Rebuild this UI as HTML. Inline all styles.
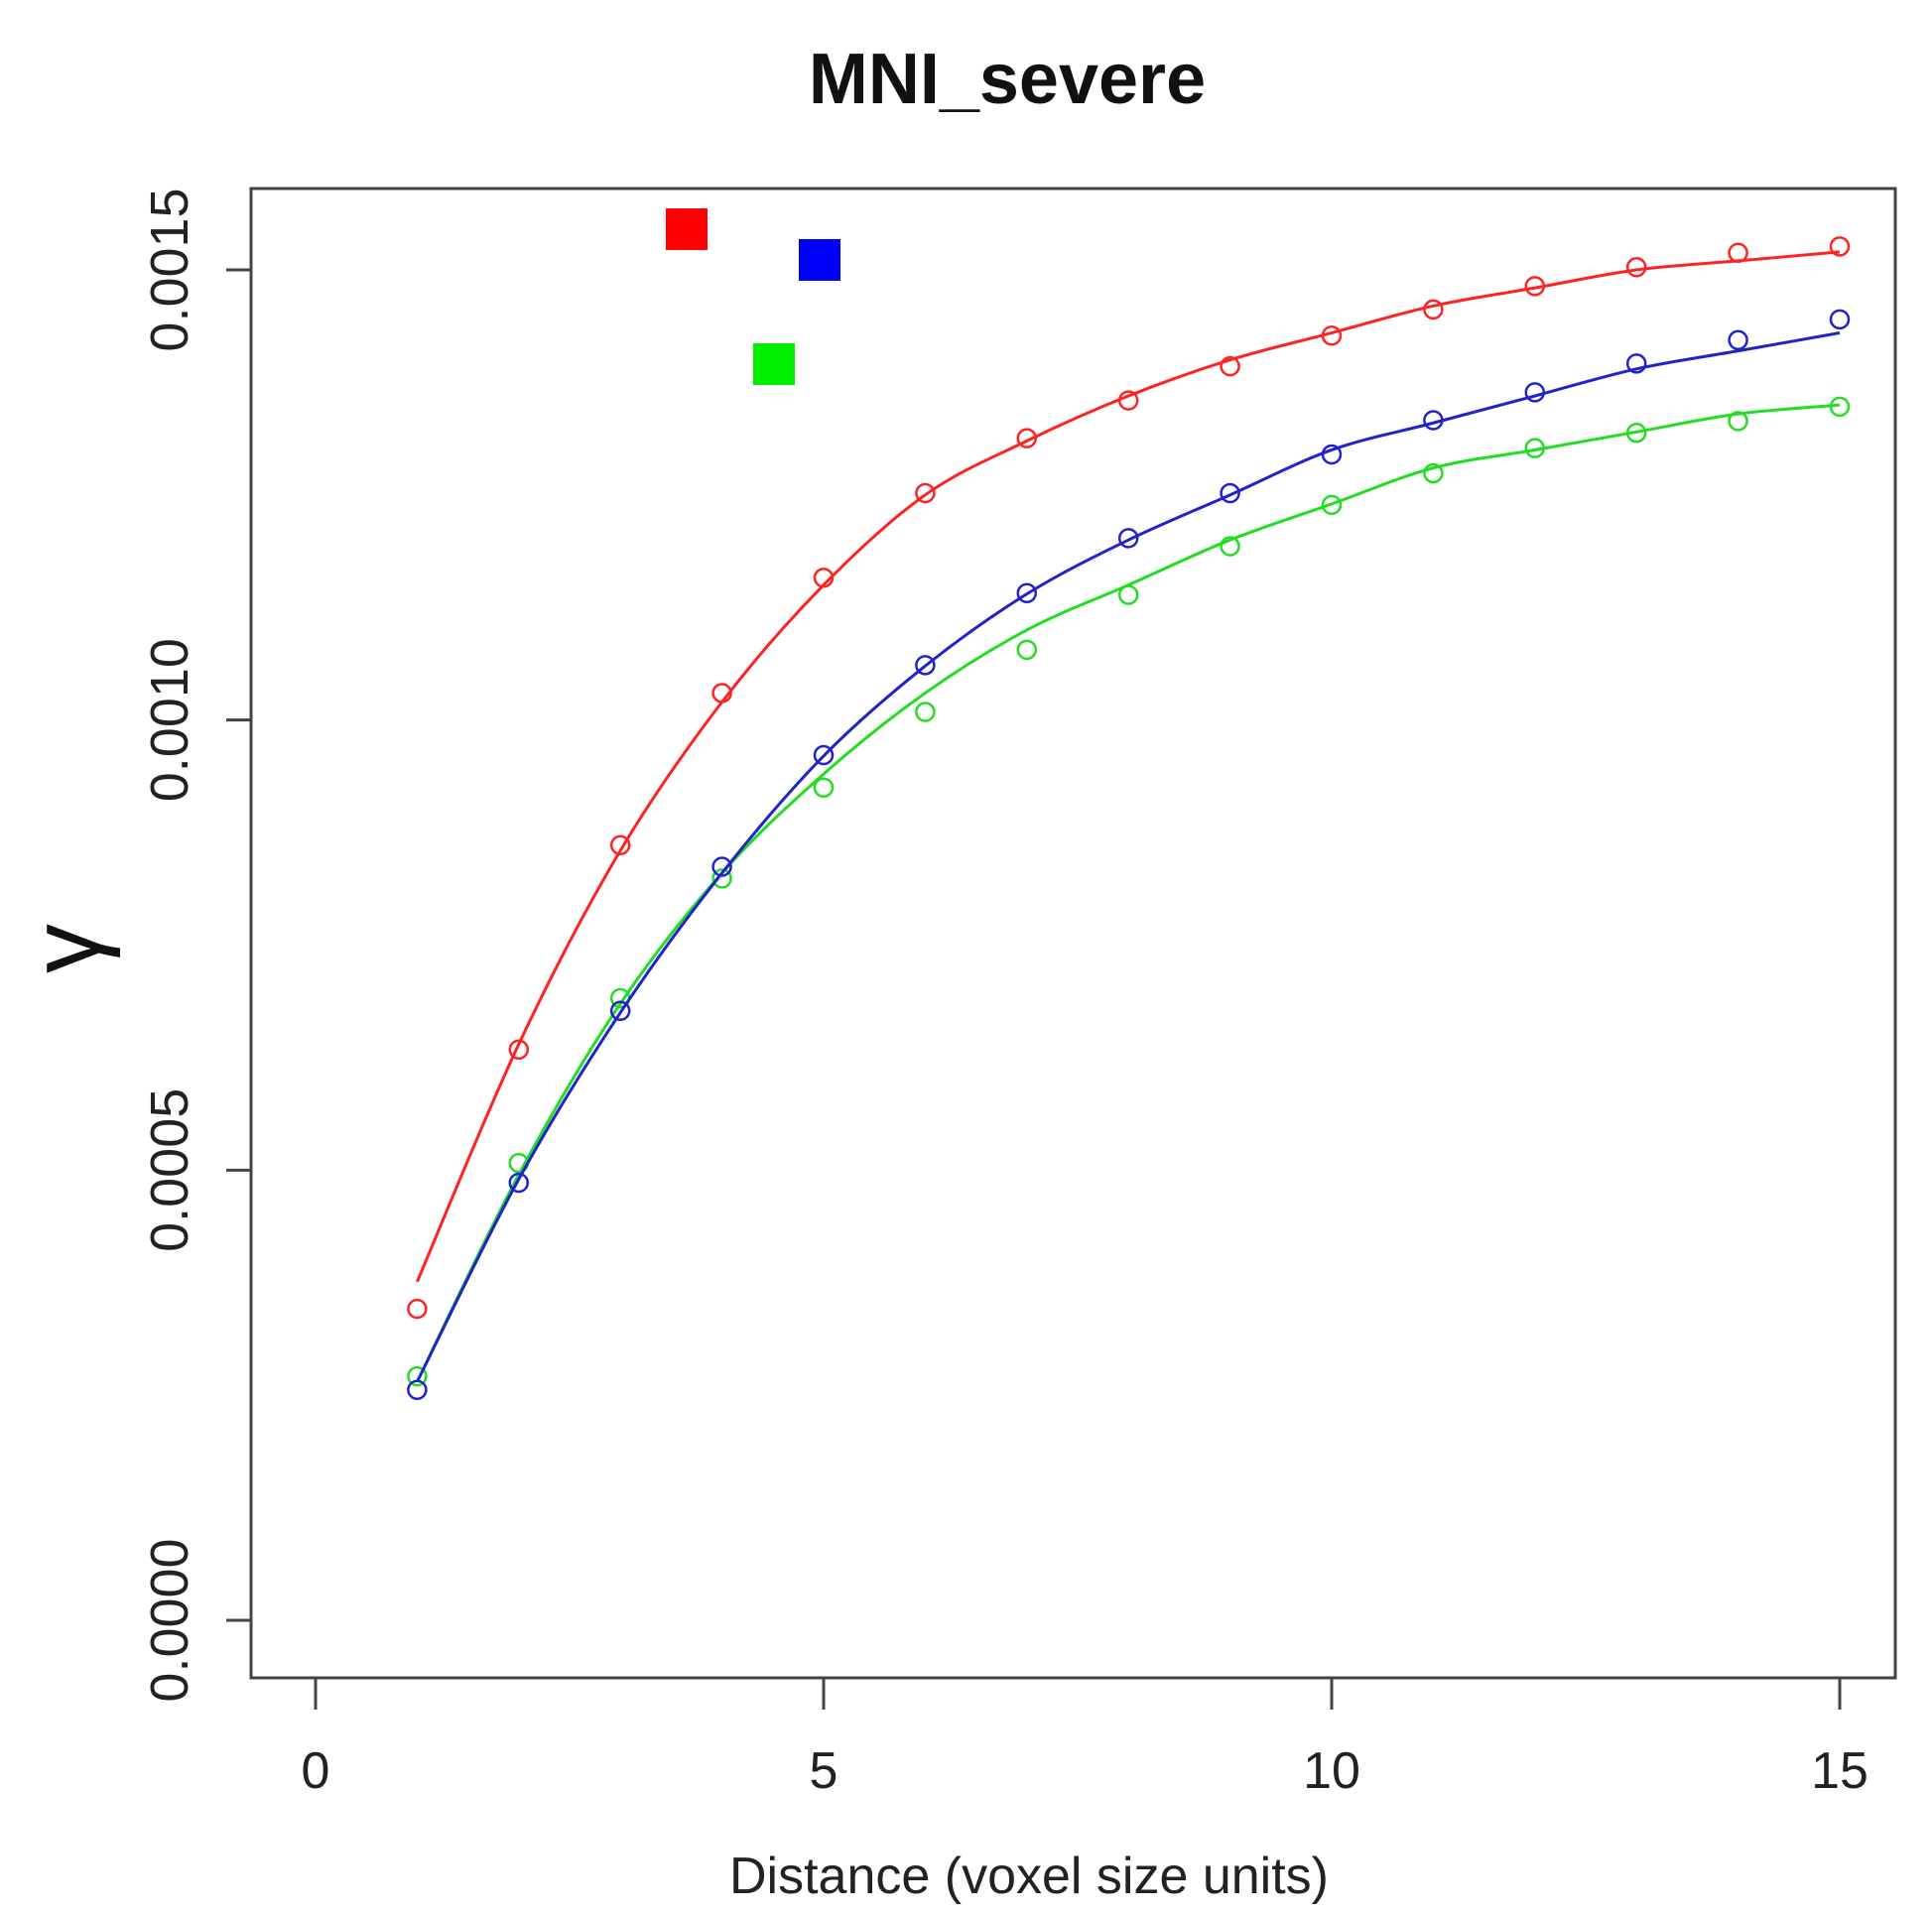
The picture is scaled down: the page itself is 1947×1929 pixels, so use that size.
<!DOCTYPE html>
<html><head><meta charset="utf-8"><style>
html,body{margin:0;padding:0;background:#fff;}
svg{display:block;font-family:"Liberation Sans",sans-serif;}
</style></head><body>
<svg id="chart" width="1947" height="1929" viewBox="0 0 1947 1929">
<text x="1015" y="104" font-size="72" font-weight="bold" text-anchor="middle" fill="#111">MNI_severe</text>
<rect x="253" y="190" width="1657" height="1501" fill="none" stroke="#444" stroke-width="3"/>
<text x="1037" y="1908" font-size="52" text-anchor="middle" fill="#222">Distance (voxel size units)</text>
<text transform="translate(100,956) rotate(-90)" font-size="100" text-anchor="middle" fill="#111">γ</text>
<rect x="671" y="210" width="42" height="42" fill="#ff0000"/>
<rect x="805" y="241" width="42" height="42" fill="#0000ff"/>
<rect x="759" y="346" width="42" height="42" fill="#00ee00"/>
<g id="axes"></g>
<g id="series"></g>
</svg>
<script>
const xs = [1,2,3,4,5,6,7,8,9,10,11,12,13,14,15];
const xTicks = [0,5,10,15];
const yTicks = [0,0.0005,0.0010,0.0015];
const yTickLabels = ["0.0000","0.0005","0.0010","0.0015"];
const redPts = [0.000346,0.000634,0.000861,0.00103,0.001158,0.001252,0.001313,0.001355,0.001393,0.001427,0.001456,0.001482,0.001503,0.001519,0.001526];
const bluePts = [0.000256,0.000486,0.000677,0.000837,0.000961,0.001061,0.001141,0.001202,0.001252,0.001295,0.001333,0.001364,0.001396,0.001422,0.001445];
const greenPts = [0.000271,0.000508,0.000691,0.000824,0.000925,0.001009,0.001078,0.001139,0.001193,0.001239,0.001274,0.001302,0.001319,0.001332,0.001348];
const redFit = [0.000376,0.00064,0.000855,0.00102,0.00115,0.00125,0.00131,0.00136,0.0014,0.00143,0.00146,0.00148,0.0015,0.00151,0.00152];
const blueFit = [0.000265,0.00049,0.000675,0.00083,0.00096,0.00106,0.00114,0.0012,0.00125,0.0013,0.00133,0.00136,0.00139,0.00141,0.00143];
const greenFit = [0.000265,0.000495,0.000685,0.00083,0.00094,0.00103,0.0011,0.00115,0.0012,0.00124,0.00128,0.0013,0.00132,0.00134,0.00135];

const NS="http://www.w3.org/2000/svg";
const X = v => 318 + v*(1854-318)/15;
const Y = v => 1633 - v*(1633-272)/0.0015;
const axes=document.getElementById('axes');
const ser=document.getElementById('series');
function mk(tag,attrs,parent){const e=document.createElementNS(NS,tag);for(const k in attrs)e.setAttribute(k,attrs[k]);parent.appendChild(e);return e;}
xTicks.forEach(t=>{
  const l=mk('line',{x1:X(t),x2:X(t),y1:1691,y2:1723,stroke:'#444','stroke-width':3},axes);
  
  
  const tx=mk('text',{x:X(t),y:1802,'font-size':52,'text-anchor':'middle',fill:'#222'},axes);
  tx.textContent=t;
  
  
});
yTicks.forEach((t,i)=>{
  const l=mk('line',{x1:228,x2:253,y1:Y(t),y2:Y(t),stroke:'#444','stroke-width':3},axes);
  
  
  const tx=mk('text',{transform:`translate(189,${Y(t)}) rotate(-90)`,'font-size':54,'text-anchor':'middle',fill:'#222'},axes);
  tx.textContent=yTickLabels[i];
  
  
});
function smooth(vals){
  const p=vals.map((v,i)=>[X(xs[i]),Y(v)]);
  let d=`M${p[0][0]},${p[0][1]}`;
  for(let i=0;i<p.length-1;i++){
    const p0=p[i-1]||p[i],p1=p[i],p2=p[i+1],p3=p[i+2]||p2;
    const c1=[p1[0]+(p2[0]-p0[0])/6,p1[1]+(p2[1]-p0[1])/6];
    const c2=[p2[0]-(p3[0]-p1[0])/6,p2[1]-(p3[1]-p1[1])/6];
    d+=` C${c1[0]},${c1[1]} ${c2[0]},${c2[1]} ${p2[0]},${p2[1]}`;
  }
  return d;
}
const series=[['green',greenPts,greenFit,'#22dd22'],['blue',bluePts,blueFit,'#2222cc'],['red',redPts,redFit,'#ff2222']];
series.forEach(([name,pts,fit,col])=>{
  const path=mk('path',{d:smooth(fit),fill:'none',stroke:col,'stroke-width':3},ser);
  
  
  pts.forEach((v,i)=>{
    const c=mk('circle',{cx:X(xs[i]),cy:Y(v),r:9,fill:'none',stroke:col,'stroke-width':2.5},ser);
    
    
  });
});
</script>
</body></html>
